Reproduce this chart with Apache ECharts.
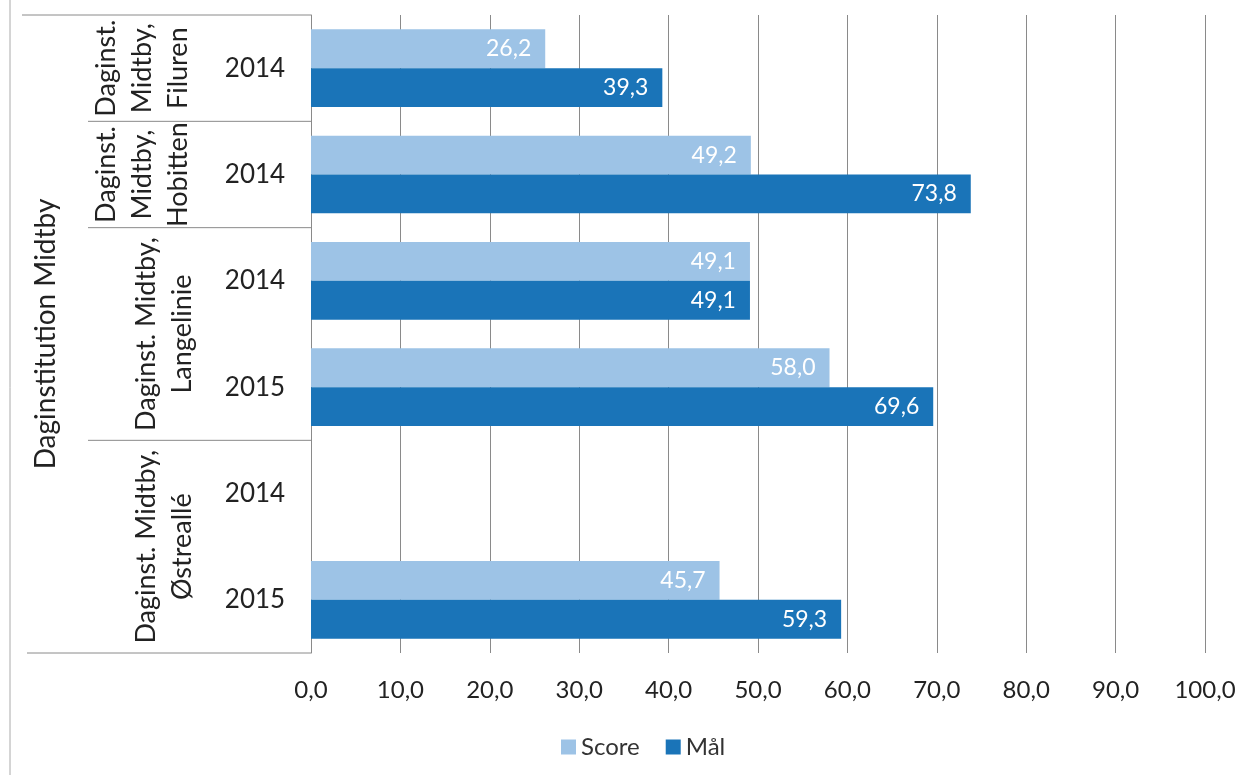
<!DOCTYPE html>
<html><head><meta charset="utf-8">
<script src="https://cdn.jsdelivr.net/npm/echarts@6/dist/echarts.min.js"></script>
<style>html,body{margin:0;padding:0;background:#fff}#c{width:1252px;height:775px}</style>
</head><body><div id="c"></div>
<script>
const years = ['2014', '2014', '2014', '2015', '2014', '2015'];
const score = [26.2, 49.2, 49.1, 58.0, null, 45.7];
const maal = [39.3, 73.8, 49.1, 69.6, null, 59.3];
const groupNames = ['Daginst.\nMidtby,\nFiluren', 'Daginst.\nMidtby,\nHobitten', 'Daginst. Midtby,\nLangelinie', 'Daginst. Midtby,\nØstreallé'];
const groupSizes = [1, 1, 2, 2];
const topGroup = 'Daginstitution Midtby';
const seriesNames = ['Score', 'Mål'];
const xTicks = { min: 0, max: 100, interval: 10 };

const FONT = 'Lato, "Open Sans", sans-serif';
const fmt = v => (v == null ? '' : v.toFixed(1).replace('.', ','));
const chart = echarts.init(document.getElementById('c'));
chart.setOption({
  animation: false,
  textStyle: { fontFamily: FONT },
  grid: { left: 311, right: 47, top: 15, bottom: 122, containLabel: false },
  legend: {
    data: seriesNames, top: 730, left: 556, icon: 'rect', itemWidth: 15, itemHeight: 15, itemGap: 26, itemHeight: 15,
    textStyle: { fontSize: 24, color: '#333', fontFamily: FONT }
  },
  xAxis: {
    type: 'value', min: xTicks.min, max: xTicks.max, interval: xTicks.interval,
    axisLine: { show: false }, axisTick: { show: false },
    splitLine: { show: true, lineStyle: { color: '#8a8a8a', width: 1 } },
    axisLabel: { formatter: fmt, fontSize: 24, color: '#222', margin: 25, fontFamily: FONT }
  },
  yAxis: {
    type: 'category', data: years, inverse: true,
    axisLine: { show: true, lineStyle: { color: '#8a8a8a', width: 1 } },
    axisTick: { show: false },
    axisLabel: { fontSize: 26, color: '#222', align: 'center', margin: 56, fontFamily: FONT }
  },
  series: [
    { name: seriesNames[0], type: 'bar', data: score, barGap: '0%', barCategoryGap: '27%',
      itemStyle: { color: '#9DC3E6' },
      label: { show: true, position: 'insideRight', distance: 14, color: '#fff', fontSize: 23, formatter: p => fmt(p.value), fontFamily: FONT } },
    { name: seriesNames[1], type: 'bar', data: maal, barGap: '0%', barCategoryGap: '27%',
      itemStyle: { color: '#1A74B8' },
      label: { show: true, position: 'insideRight', distance: 14, color: '#fff', fontSize: 23, formatter: p => fmt(p.value), fontFamily: FONT } }
  ]
});

// hierarchical category boxes, positioned from the axis scale
const c0 = chart.convertToPixel({ yAxisIndex: 0 }, 0);
const c1 = chart.convertToPixel({ yAxisIndex: 0 }, 1);
const band = c1 - c0;
const edge = i => c0 + (i - 0.5) * band;
const axisX = chart.convertToPixel({ xAxisIndex: 0 }, xTicks.min);
const lineStyle = { stroke: '#8a8a8a', lineWidth: 1 };
const els = [];
const topY = edge(0), botY = edge(years.length);
els.push({ type: 'line', shape: { x1: 22, y1: topY, x2: axisX, y2: topY }, style: lineStyle });
els.push({ type: 'line', shape: { x1: 27, y1: botY, x2: axisX, y2: botY }, style: lineStyle });
els.push({ type: 'line', shape: { x1: 10, y1: 0, x2: 10, y2: 775 }, style: { stroke: '#aaa', lineWidth: 1 } });
let idx = 0;
groupNames.forEach((name, g) => {
  const start = idx, end = idx + groupSizes[g];
  if (g > 0) {
    const y = edge(start);
    els.push({ type: 'line', shape: { x1: 88, y1: y, x2: axisX, y2: y }, style: lineStyle });
  }
  const multi = name.split('\n').length;
  els.push({
    type: 'text', x: multi === 3 ? 142 : 164, y: (edge(start) + edge(end)) / 2, rotation: Math.PI / 2,
    style: { text: name, fontSize: 27, lineHeight: 36, fill: '#222', align: 'center', verticalAlign: 'middle', fontFamily: FONT }
  });
  idx = end;
});
els.push({
  type: 'text', x: 46, y: (topY + botY) / 2, rotation: Math.PI / 2,
  style: { text: topGroup, fontSize: 28, fill: '#222', align: 'center', verticalAlign: 'middle', fontFamily: FONT }
});
chart.setOption({ graphic: { elements: els } });
</script></body></html>
